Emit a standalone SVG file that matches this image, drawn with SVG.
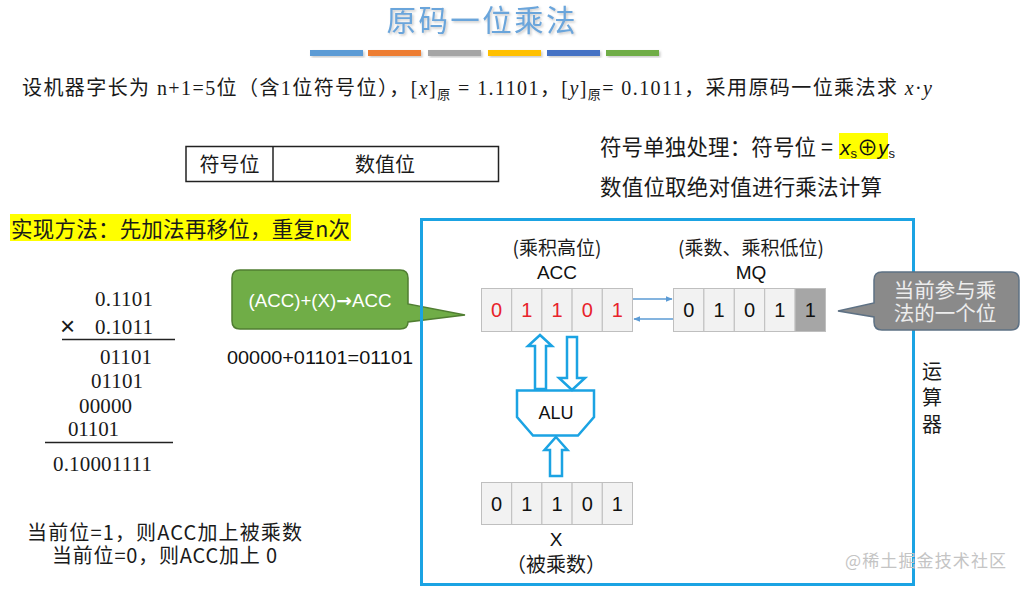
<svg xmlns="http://www.w3.org/2000/svg" width="1022" height="589" viewBox="0 0 1022 589">
<style>
.cjk{font-family:"Noto Sans CJK SC","Liberation Sans",sans-serif;fill:#1a1a1a}
.ser{font-family:"Liberation Serif","Noto Sans CJK SC",serif;fill:#1a1a1a}
.san{font-family:"Liberation Sans","Noto Sans CJK SC",sans-serif;fill:#111}
.cell{fill:#F2F2F2;stroke:#BFBFBF;stroke-width:1}
.dark{fill:#A6A6A6;stroke:#BFBFBF;stroke-width:1}
.dig{font-family:"Liberation Sans",sans-serif;font-size:20px;text-anchor:middle}
.red{fill:#E8232B}
.hol{fill:#fff;stroke:#1BA3E3;stroke-width:2.5;stroke-linejoin:miter}
.thin{stroke:#5B9BD5;stroke-width:1.6;fill:none}
.mid{text-anchor:middle}
</style>
<defs>
<marker id="ah" viewBox="0 0 10 10" refX="9" refY="5" markerWidth="7" markerHeight="7" orient="auto" markerUnits="userSpaceOnUse">
<path d="M0,1 L10,5 L0,9 Z" fill="#5B9BD5"/>
</marker>
<filter id="sh" x="-10%" y="-30%" width="120%" height="160%">
<feDropShadow dx="1.5" dy="1.5" stdDeviation="0.8" flood-color="#888" flood-opacity="0.45"/>
</filter>
</defs>
<rect width="1022" height="589" fill="#fff"/>

<g id="title">
<text x="481" y="30.5" class="mid" font-family="Noto Sans CJK SC,sans-serif" font-size="29.5" fill="#6AA5DB" textLength="189" lengthAdjust="spacing" filter="url(#sh)">原码一位乘法</text>
</g>

<g id="bars" filter="url(#sh)">
<rect x="310" y="50" width="53" height="6" fill="#5B9BD5"/>
<rect x="368" y="50" width="53" height="6" fill="#ED7D31"/>
<rect x="428" y="50" width="53" height="6" fill="#A5A5A5"/>
<rect x="488" y="50" width="53" height="6" fill="#FFC000"/>
<rect x="547" y="50" width="53" height="6" fill="#4472C4"/>
<rect x="606" y="50" width="53" height="6" fill="#70AD47"/>
</g>

<g id="statement">
<text x="22" y="95" class="ser" font-size="20" textLength="910" lengthAdjust="spacing">设机器字长为 n+1=5位（含1位符号位），[<tspan font-style="italic">x</tspan>]<tspan font-size="13" dy="4">原</tspan><tspan dy="-4"> = 1.1101，[</tspan><tspan font-style="italic">y</tspan>]<tspan font-size="13" dy="4">原</tspan><tspan dy="-4">= 0.1011，采用原码一位乘法求 </tspan><tspan font-style="italic">x</tspan>·<tspan font-style="italic">y</tspan></text>
</g>

<g id="format-table">
<rect x="186" y="146.5" width="312.5" height="35" fill="#fff" stroke="#222" stroke-width="1.5"/>
<line x1="273" y1="146.5" x2="273" y2="181.5" stroke="#222" stroke-width="1.5"/>
<text x="229.5" y="172" class="cjk mid" font-size="20">符号位</text>
<text x="385" y="172" class="cjk mid" font-size="20">数值位</text>
</g>

<g id="sign-notes">
<rect x="839" y="133" width="49" height="26" fill="#FFFF00"/>
<text x="600" y="155" class="cjk" font-size="21.5" textLength="233" lengthAdjust="spacing">符号单独处理：符号位 =</text>
<text x="840" y="155" class="san" font-size="21"><tspan font-style="italic">x</tspan><tspan font-size="13" dy="3">s</tspan><tspan dy="-3">⊕</tspan><tspan font-style="italic">y</tspan><tspan font-size="13" dy="3">s</tspan></text>
<text x="600" y="194.5" class="cjk" font-size="21.5" textLength="282" lengthAdjust="spacing">数值位取绝对值进行乘法计算</text>
</g>

<g id="method">
<rect x="10" y="214" width="341" height="27" fill="#FFFF00"/>
<text x="11" y="237" class="cjk" font-size="21.5" textLength="339" lengthAdjust="spacing">实现方法：先加法再移位，重复n次</text>
</g>

<g id="hand-calc" class="ser" font-size="21">
<text x="95" y="306" textLength="58">0.1101</text>
<text x="60" y="335" font-family="Liberation Sans,sans-serif" font-size="26">×</text>
<text x="95" y="334" textLength="58">0.1011</text>
<line x1="62" y1="339.5" x2="175" y2="339.5" stroke="#222" stroke-width="1.3"/>
<text x="100" y="364" textLength="52">01101</text>
<text x="91" y="388" textLength="52">01101</text>
<text x="79" y="413" textLength="53">00000</text>
<text x="68" y="436" textLength="51">01101</text>
<line x1="45" y1="442.5" x2="173" y2="442.5" stroke="#222" stroke-width="1.3"/>
<text x="53" y="471" textLength="99">0.10001111</text>
</g>

<g id="rules">
<text x="27" y="540" class="cjk" font-size="20" textLength="275" lengthAdjust="spacing">当前位=1，则ACC加上被乘数</text>
<text x="52" y="563" class="cjk" font-size="20" textLength="225" lengthAdjust="spacing">当前位=0，则ACC加上 0</text>
</g>

<g id="add-callout">
<path d="M240,270 H400 Q408,270 408,278 V304 L465,315 L408,322 Q408,329 400,329 H240 Q232,329 232,321 V278 Q232,270 240,270 Z" fill="#70AD47" stroke="#507E32" stroke-width="1.5"/>
<text x="320" y="306.5" class="mid" font-family="Liberation Sans,sans-serif" font-size="18.5" fill="#fff" textLength="143" lengthAdjust="spacingAndGlyphs">(ACC)+(X)<tspan font-family="DejaVu Sans,sans-serif" font-weight="bold">→</tspan>ACC</text>
</g>

<g id="add-example">
<text x="227" y="364" class="san" font-size="18" textLength="186" lengthAdjust="spacingAndGlyphs">00000+01101=01101</text>
</g>

<g id="alu-unit">
<rect x="421.5" y="219.5" width="492" height="365" fill="none" stroke="#1BA3E3" stroke-width="3"/>
<text x="932" y="379" class="cjk mid" font-size="20">运</text>
<text x="932" y="405" class="cjk mid" font-size="20">算</text>
<text x="932" y="432" class="cjk mid" font-size="20">器</text>
</g>

<g id="acc">
<text x="557" y="255" class="cjk mid" font-size="19">(乘积高位)</text>
<text x="557" y="279" class="san mid" font-size="19">ACC</text>
<rect class="cell" x="481.5" y="288.5" width="30.2" height="43"/>
<rect class="cell" x="511.7" y="288.5" width="30.2" height="43"/>
<rect class="cell" x="541.9" y="288.5" width="30.2" height="43"/>
<rect class="cell" x="572.1" y="288.5" width="30.2" height="43"/>
<rect class="cell" x="602.3" y="288.5" width="30.2" height="43"/>
<g class="dig red">
<text x="496.6" y="317">0</text><text x="526.8" y="317">1</text><text x="557" y="317">1</text><text x="587.2" y="317">0</text><text x="617.4" y="317">1</text>
</g>
</g>

<g id="mq">
<text x="751" y="255" class="cjk mid" font-size="19">(乘数、乘积低位)</text>
<text x="751" y="279" class="san mid" font-size="19">MQ</text>
<rect class="cell" x="673.5" y="288.5" width="30.4" height="43"/>
<rect class="cell" x="703.9" y="288.5" width="30.4" height="43"/>
<rect class="cell" x="734.3" y="288.5" width="30.4" height="43"/>
<rect class="cell" x="764.7" y="288.5" width="30.4" height="43"/>
<rect class="dark" x="795.1" y="288.5" width="30.4" height="43"/>
<g class="dig" fill="#111">
<text x="688.7" y="317">0</text><text x="719.1" y="317">1</text><text x="749.5" y="317">0</text><text x="779.9" y="317">1</text><text x="810.3" y="317">1</text>
</g>
</g>

<g id="alu">
<path class="hol" d="M517,390.5 H594 V417 L578,435.5 H533 L517,417 Z"/>
<text x="556" y="419" class="san mid" font-size="18">ALU</text>
</g>

<g id="x-reg">
<rect class="cell" x="481.5" y="482.5" width="30.2" height="42"/>
<rect class="cell" x="511.7" y="482.5" width="30.2" height="42"/>
<rect class="cell" x="541.9" y="482.5" width="30.2" height="42"/>
<rect class="cell" x="572.1" y="482.5" width="30.2" height="42"/>
<rect class="cell" x="602.3" y="482.5" width="30.2" height="42"/>
<g class="dig" fill="#111">
<text x="496.6" y="511">0</text><text x="526.8" y="511">1</text><text x="557" y="511">1</text><text x="587.2" y="511">0</text><text x="617.4" y="511">1</text>
</g>
<text x="556" y="546" class="san mid" font-size="19">X</text>
<text x="556" y="572" class="cjk mid" font-size="20">（被乘数）</text>
</g>

<g id="connectors">
<line class="thin" x1="633" y1="299" x2="672" y2="299" marker-end="url(#ah)"/>
<line class="thin" x1="673" y1="319" x2="634" y2="319" marker-end="url(#ah)"/>
<path class="hol" d="M540,335 L552,346 H546 V389 H535 V346 H528 Z"/>
<path class="hol" d="M567,337 H577 V378 H585 L572,390 L559,378 H567 Z"/>
<path class="hol" d="M556,437 L567.5,450 H562 V476 H550 V450 H544.5 Z"/>
</g>

<g id="bit-callout">
<path d="M882,272 H1011 Q1019,272 1019,280 V322 Q1019,330 1011,330 H882 Q874,330 874,322 V317 L838,311 L874,303 V280 Q874,272 882,272 Z" fill="#8A8A8A" stroke="#5E7184" stroke-width="1.5"/>
<text x="945" y="298" class="mid" font-family="Noto Sans CJK SC,sans-serif" font-size="20.5" fill="#EDEDED">当前参与乘</text>
<text x="945" y="321" class="mid" font-family="Noto Sans CJK SC,sans-serif" font-size="20.5" fill="#EDEDED">法的一个位</text>
</g>

<g id="watermark">
<text x="845" y="567" font-family="Noto Sans CJK SC,sans-serif" font-size="17" fill="#C4C4C4" textLength="161" lengthAdjust="spacing">@稀土掘金技术社区</text>
</g>
</svg>
